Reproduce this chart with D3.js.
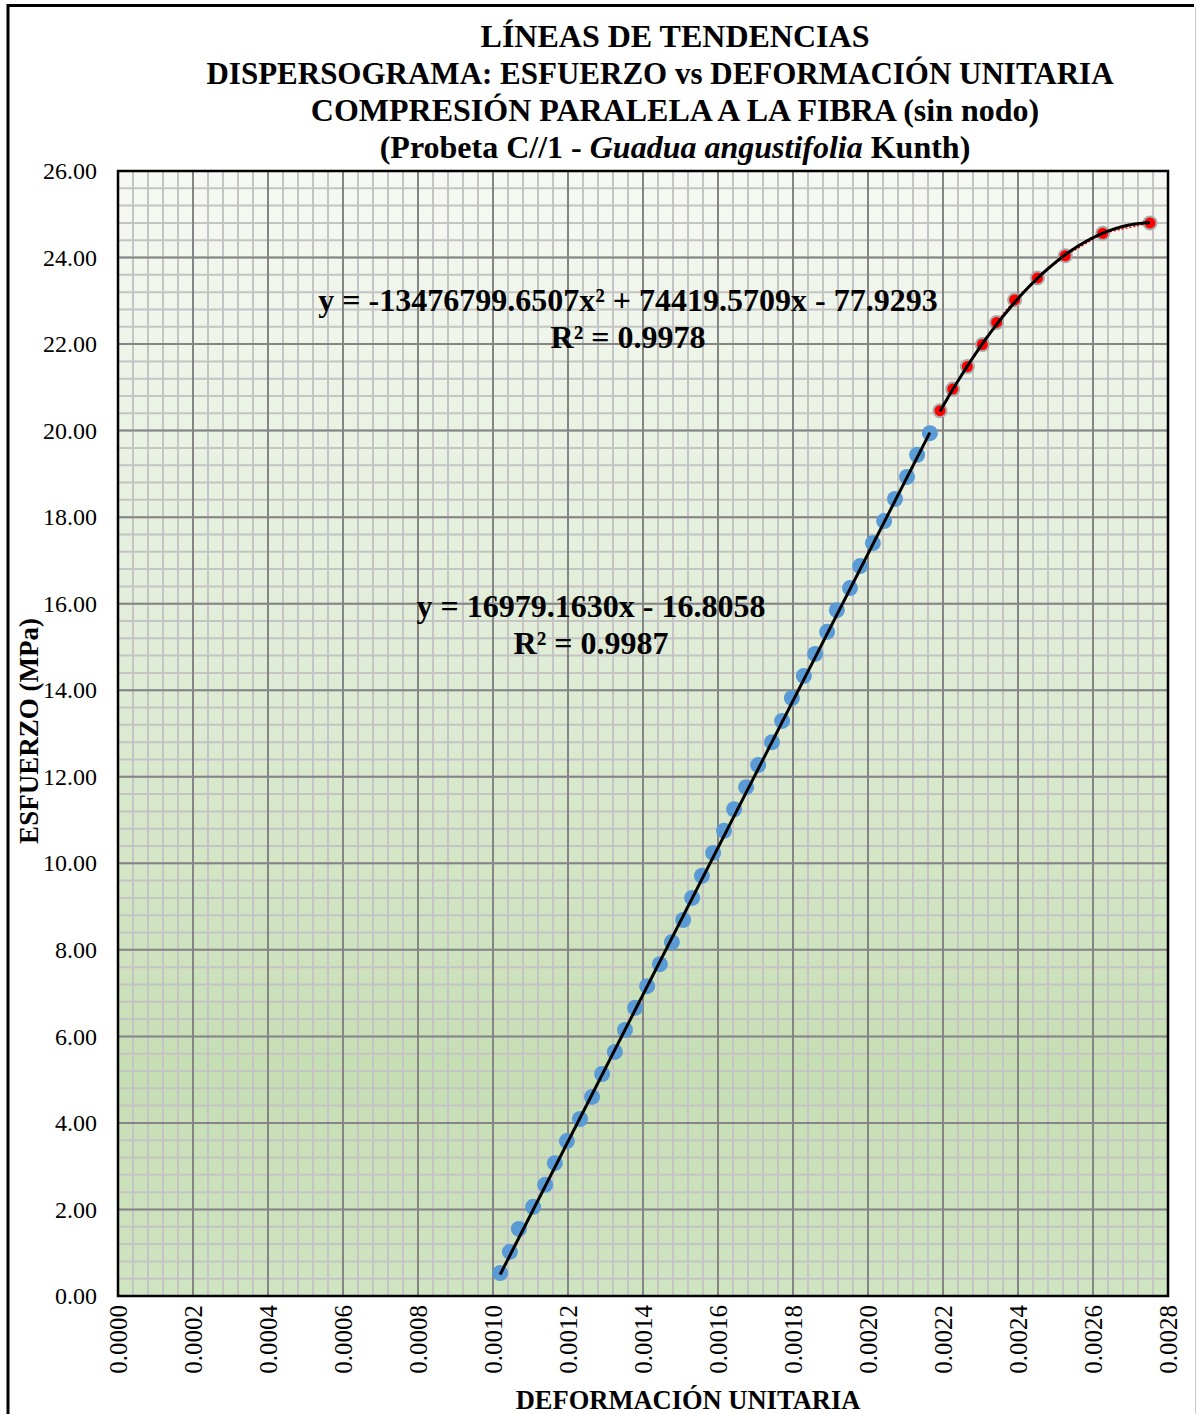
<!DOCTYPE html>
<html>
<head>
<meta charset="utf-8">
<script src="https://cdn.jsdelivr.net/npm/d3@7"></script>
<style>
  html, body { margin: 0; padding: 0; background: #ffffff; }
  svg { display: block; }
  text { font-family: "Liberation Serif", "Times New Roman", serif; }
</style>
</head>
<body>
<svg id="chart" width="1197" height="1414"></svg>
<script>
// Linear (elastic) range: unit strain and stress (MPa)
const linearStrain = [0.001019, 0.001045, 0.001069, 0.001107, 0.001139, 0.001165, 0.001197, 0.001232,
  0.001264, 0.001291, 0.001325, 0.001352, 0.001379, 0.001411, 0.001445, 0.001477, 0.001507, 0.001531,
  0.001557, 0.001587, 0.001616, 0.001643, 0.001675, 0.001707, 0.001744, 0.001771, 0.001797, 0.001829,
  0.001859, 0.001891, 0.001917, 0.001952, 0.001979, 0.002013, 0.002043, 0.002072, 0.002104, 0.002131,
  0.002165];
const linearStress = [0.53, 1.02, 1.55, 2.06, 2.57, 3.07, 3.58, 4.09, 4.60, 5.13, 5.64, 6.15, 6.66, 7.16,
  7.67, 8.18, 8.69, 9.20, 9.71, 10.24, 10.75, 11.25, 11.76, 12.27, 12.80, 13.29, 13.82, 14.33, 14.84,
  15.35, 15.85, 16.36, 16.87, 17.40, 17.91, 18.42, 18.93, 19.44, 19.94];

// Non-linear range up to the maximum stress
const plasticStrain = [0.002192, 0.002226, 0.002265, 0.002305, 0.002343, 0.002391, 0.002452, 0.002526,
  0.002626, 0.002752];
const plasticStress = [20.46, 20.96, 21.48, 21.99, 22.50, 23.02, 23.53, 24.04, 24.56, 24.80];

// Trendline coefficients
const linearCoef = { slope: 16979.1630, intercept: -16.8058 };
const polyCoef = { a: -13476799.6507, b: 74419.5709, c: -77.9293 };

const xTicks = [0, 0.0002, 0.0004, 0.0006, 0.0008, 0.0010, 0.0012, 0.0014, 0.0016, 0.0018, 0.0020,
  0.0022, 0.0024, 0.0026, 0.0028];
const yTicks = [0, 2, 4, 6, 8, 10, 12, 14, 16, 18, 20, 22, 24, 26];

const titleLines = [
  "LÍNEAS DE TENDENCIAS",
  "DISPERSOGRAMA: ESFUERZO vs DEFORMACIÓN UNITARIA",
  "COMPRESIÓN PARALELA A LA FIBRA (sin nodo)"
];
const xTitle = "DEFORMACIÓN UNITARIA";
const yTitle = "ESFUERZO (MPa)";

const svg = d3.select("#chart");
const W = 1197, H = 1414;
const plot = { left: 118, top: 171, right: 1168, bottom: 1296 };

const x = d3.scaleLinear().domain([0, 0.0028]).range([plot.left, plot.right]);
const y = d3.scaleLinear().domain([0, 26]).range([plot.bottom, plot.top]);

// Outer frame
svg.append("rect").attr("x", 0).attr("y", 0).attr("width", W).attr("height", H).attr("fill", "#fff");
svg.append("line").attr("x1", 8).attr("x2", 8).attr("y1", 4).attr("y2", H).attr("stroke", "#000").attr("stroke-width", 3);
svg.append("line").attr("x1", 7).attr("x2", 1194).attr("y1", 5.5).attr("y2", 5.5).attr("stroke", "#000").attr("stroke-width", 3);
svg.append("line").attr("x1", 1195.5).attr("x2", 1195.5).attr("y1", 7).attr("y2", H).attr("stroke", "#c8c8c8").attr("stroke-width", 1);

// Plot background gradient
const defs = svg.append("defs");
const grad = defs.append("linearGradient").attr("id", "bg").attr("x1", 0).attr("y1", 0).attr("x2", 0).attr("y2", 1);
grad.append("stop").attr("offset", "0%").attr("stop-color", "#f6f9f3");
grad.append("stop").attr("offset", "45%").attr("stop-color", "#dfecd5");
grad.append("stop").attr("offset", "80%").attr("stop-color", "#c6deb4");
grad.append("stop").attr("offset", "100%").attr("stop-color", "#cfe4c1");
svg.append("rect")
  .attr("x", plot.left).attr("y", plot.top)
  .attr("width", plot.right - plot.left).attr("height", plot.bottom - plot.top)
  .attr("fill", "url(#bg)");

// Minor grid
const gGrid = svg.append("g");
const xMinor = d3.range(0, 71).map(i => i * 0.00004);
const yMinor = d3.range(0, 66).map(i => i * 0.4);
gGrid.selectAll(".xm").data(xMinor).join("line")
  .attr("x1", d => x(d)).attr("x2", d => x(d)).attr("y1", plot.top).attr("y2", plot.bottom)
  .attr("stroke", "#c4c4c4").attr("stroke-width", 2);
gGrid.selectAll(".ym").data(yMinor).join("line")
  .attr("x1", plot.left).attr("x2", plot.right).attr("y1", d => y(d)).attr("y2", d => y(d))
  .attr("stroke", "#c4c4c4").attr("stroke-width", 2);
// Major grid
gGrid.selectAll(".xM").data(xTicks).join("line")
  .attr("x1", d => x(d)).attr("x2", d => x(d)).attr("y1", plot.top).attr("y2", plot.bottom)
  .attr("stroke", "#858585").attr("stroke-width", 2);
gGrid.selectAll(".yM").data(yTicks).join("line")
  .attr("x1", plot.left).attr("x2", plot.right).attr("y1", d => y(d)).attr("y2", d => y(d))
  .attr("stroke", "#858585").attr("stroke-width", 2);

// Plot border
svg.append("rect")
  .attr("x", plot.left).attr("y", plot.top)
  .attr("width", plot.right - plot.left).attr("height", plot.bottom - plot.top)
  .attr("fill", "none").attr("stroke", "#000").attr("stroke-width", 2.5);

// Axes (labels only; grid carries the ticks)
const yAxis = d3.axisLeft(y).tickValues(yTicks).tickFormat(d3.format(".2f")).tickSize(0).tickPadding(21);
const gy = svg.append("g").attr("transform", `translate(${plot.left},0)`).call(yAxis);
gy.select(".domain").remove();
gy.selectAll("text").attr("font-size", 24).attr("fill", "#000")
  .style("font-family", "'Liberation Serif', 'Times New Roman', serif");

const xAxis = d3.axisBottom(x).tickValues(xTicks).tickFormat(d3.format(".4f")).tickSize(0);
const gx = svg.append("g").attr("transform", `translate(0,${plot.bottom})`).call(xAxis);
gx.select(".domain").remove();
gx.selectAll("text")
  .attr("font-size", 25).attr("fill", "#000")
  .style("font-family", "'Liberation Serif', 'Times New Roman', serif")
  .attr("text-anchor", "end")
  .attr("transform", "rotate(-90)")
  .attr("x", -9).attr("y", 0).attr("dy", "0.35em");

const line = d3.line().x(d => x(d[0])).y(d => y(d[1]));
const plasticPts = plasticStrain.map((v, i) => [v, plasticStress[i]]);
const linearPts = linearStrain.map((v, i) => [v, linearStress[i]]);

// Markers
svg.append("g").selectAll("circle").data(linearPts).join("circle")
  .attr("cx", d => x(d[0])).attr("cy", d => y(d[1])).attr("r", 8)
  .attr("fill", "#5b9bd5");
svg.append("g").selectAll("circle").data(plasticPts).join("circle")
  .attr("cx", d => x(d[0])).attr("cy", d => y(d[1])).attr("r", 6.5)
  .attr("fill", "#ff0000").attr("stroke", "#a9a9a9").attr("stroke-width", 2);

// Dotted connecting line of the non-linear series
svg.append("path").datum(plasticPts).attr("d", line)
  .attr("fill", "none").attr("stroke", "#ff0000").attr("stroke-width", 1.5).attr("stroke-dasharray", "2,2");

// Trendlines
const linX = d3.extent(linearStrain);
const linLine = [linX[0], linX[1]].map(v => [v, linearCoef.slope * v + linearCoef.intercept]);
svg.append("path").datum(linLine).attr("d", line)
  .attr("fill", "none").attr("stroke", "#000").attr("stroke-width", 3);

const polyX = d3.extent(plasticStrain);
const polyLine = d3.range(0, 101).map(i => {
  const v = polyX[0] + (polyX[1] - polyX[0]) * i / 100;
  return [v, polyCoef.a * v * v + polyCoef.b * v + polyCoef.c];
});
svg.append("path").datum(polyLine).attr("d", line)
  .attr("fill", "none").attr("stroke", "#000").attr("stroke-width", 3);

// Equation labels
const eq = svg.append("g").attr("font-weight", "bold").attr("font-size", 32).attr("text-anchor", "middle").attr("fill", "#000");
eq.append("text").attr("x", 628).attr("y", 311).text("y = -13476799.6507x² + 74419.5709x - 77.9293");
eq.append("text").attr("x", 628).attr("y", 348).text("R² = 0.9978");
eq.append("text").attr("x", 591).attr("y", 617).text("y = 16979.1630x - 16.8058");
eq.append("text").attr("x", 591).attr("y", 654).text("R² = 0.9987");

// Title
const tg = svg.append("g").attr("font-weight", "bold").attr("text-anchor", "middle").attr("fill", "#000");
const titleX = [675, 660, 675];
const titleY = [47, 84, 121];
const titleSize = [32, 31, 32];
titleLines.forEach((t, i) => tg.append("text").attr("x", titleX[i]).attr("y", titleY[i]).attr("font-size", titleSize[i]).text(t));
const t4 = tg.append("text").attr("x", 675).attr("y", 158).attr("font-size", 32);
t4.append("tspan").text("(Probeta C//1 - ");
t4.append("tspan").attr("font-style", "italic").text("Guadua angustifolia");
t4.append("tspan").text(" Kunth)");

// Axis titles
svg.append("text").attr("x", 688).attr("y", 1409).attr("text-anchor", "middle")
  .attr("font-weight", "bold").attr("font-size", 26.5).text(xTitle);
svg.append("text").attr("transform", "translate(38,731) rotate(-90)").attr("text-anchor", "middle")
  .attr("font-weight", "bold").attr("font-size", 27).text(yTitle);
</script>
</body>
</html>
